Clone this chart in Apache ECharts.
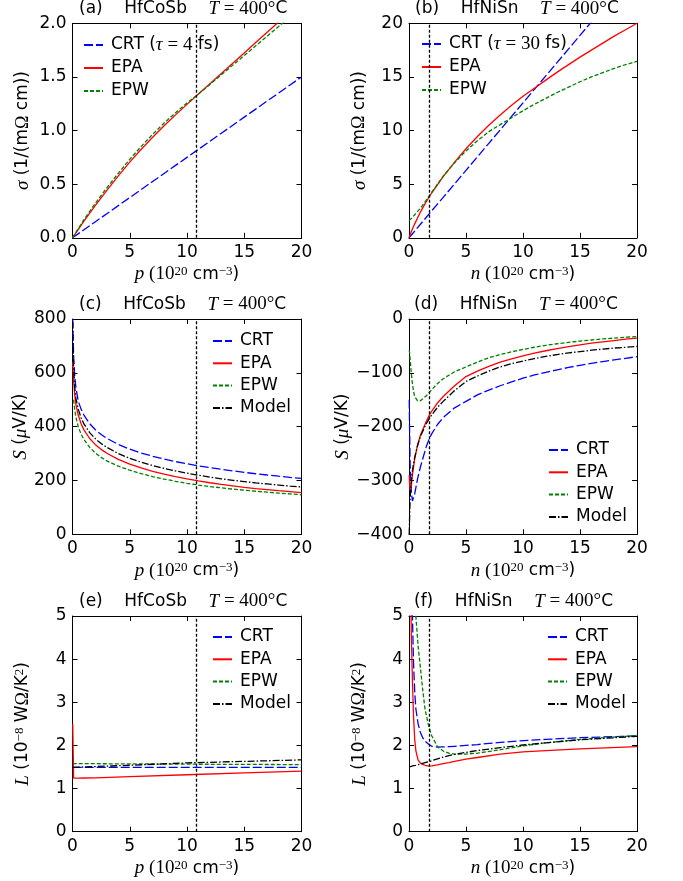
<!DOCTYPE html>
<html><head><meta charset="utf-8">
<script src="https://cdn.jsdelivr.net/npm/echarts@6/dist/echarts.min.js"></script>
<style>html,body{margin:0;padding:0;background:#fff}#c{width:683px;height:881px}</style>
</head><body><div id="c"></div><script>
// ---------- DATA ----------
// (a) HfCoSb conductivity
const aX   = [0, 1, 2, 3, 4, 5, 6, 7, 8, 9, 10, 11, 12, 13, 14, 15, 16, 17, 18, 19, 20];
const aCRT = [0, 0.075, 0.15, 0.225, 0.30, 0.375, 0.45, 0.525, 0.60, 0.675, 0.75, 0.825, 0.90, 0.975, 1.05, 1.125, 1.20, 1.275, 1.35, 1.425, 1.50];
const aEPA = [0, 0.155, 0.302, 0.443, 0.578, 0.706, 0.826, 0.938, 1.044, 1.146, 1.244, 1.34, 1.436, 1.532, 1.628, 1.724, 1.82, 1.916, 2.012, 2.108, 2.204];
const aEPW = [0, 0.17, 0.322, 0.466, 0.602, 0.731, 0.852, 0.965, 1.07, 1.166, 1.257, 1.34, 1.43, 1.52, 1.61, 1.70, 1.79, 1.88, 1.97, 2.06, 2.15];
// (b) HfNiSn conductivity
const bX   = [0, 0.25, 0.5, 1, 1.5, 2, 3, 4, 5, 6, 7, 8, 9, 10, 11, 12, 13, 14, 15, 16, 17, 18, 19, 20];
const bCRT = [0, 0.31, 0.63, 1.26, 1.89, 2.52, 3.77, 5.03, 6.29, 7.55, 8.81, 10.06, 11.32, 12.58, 13.84, 15.1, 16.35, 17.61, 18.87, 20.13, 21.4, 22.6, 23.9, 25.2];
const bEPA = [0, 0.7, 1.3, 2.4, 3.35, 4.2, 5.7, 7.05, 8.3, 9.45, 10.5, 11.45, 12.35, 13.2, 13.95, 14.7, 15.45, 16.15, 16.85, 17.5, 18.15, 18.8, 19.4, 20.0];
const bEPW = [1.6, 1.85, 2.15, 2.75, 3.5, 4.25, 5.75, 7.0, 8.1, 9.05, 9.9, 10.55, 11.2, 11.85, 12.45, 13.0, 13.55, 14.05, 14.55, 15.0, 15.4, 15.8, 16.15, 16.45];
// (c) HfCoSb Seebeck
const cX     = [0.02, 0.05, 0.1, 0.2, 0.3, 0.5, 0.75, 1, 1.5, 2, 2.5, 3, 4, 5, 6, 7, 8, 9, 10, 11, 12, 13, 14, 15, 16, 17, 18, 19, 20];
const cCRT   = [800, 740, 660, 585, 545, 495, 465, 443, 411, 388.5, 371, 356.5, 334, 316.5, 302, 290, 279.5, 270, 262, 254.5, 247.7, 241.4, 235.6, 230.1, 225, 220.3, 215.8, 211.6, 207.5];
const cEPA   = [640, 610, 570, 515, 482, 443, 411, 388, 356, 333, 315.6, 301, 278.5, 261, 246.5, 234, 223.5, 214, 206, 198.5, 191.5, 185.5, 180, 174.5, 170, 166, 162, 158.5, 155];
const cEPW   = [null, null, 500, 462, 435, 400, 372, 352, 323, 302, 286, 273, 253, 238, 225.5, 214.5, 205, 197, 189.5, 183, 177.5, 172.5, 168, 164, 160, 156.5, 153, 150, 147];
const cModel = [790, 700, 615, 545, 505, 465, 433, 410, 378, 355, 337, 323, 300, 282, 268, 255.5, 245, 235.5, 227, 219.5, 212.5, 206, 200.5, 196, 191, 187, 183, 179, 176];
// (d) HfNiSn Seebeck
const dX     = [0.02, 0.05, 0.1, 0.2, 0.3, 0.4, 0.5, 0.75, 1, 1.5, 1.75, 2, 2.5, 3, 4, 5, 6, 7, 8, 9, 10, 11, 12, 13, 14, 15, 16, 17, 18, 19, 20];
const dCRT   = [-150, -200, -270, -320, -338, -335, -325, -297, -275, -238, -224, -213, -196, -183, -165, -153, -141, -132, -124, -117, -110, -104, -99, -94.5, -90, -86, -82.5, -79, -76, -73, -70];
const dEPA   = [-290, -305, -318, -310, -290, -275, -260, -235, -216, -191, -180, -171, -156, -144, -124, -107, -97, -88, -80, -74, -68.5, -63.5, -59, -55, -51.5, -48, -45, -42.5, -40, -37.5, -35.5];
const dEPW   = [-58, -62, -75, -100, -120, -135, -144, -152, -152, -143, -137, -131, -120, -111, -98, -89, -80, -72, -66, -61, -56.5, -52.5, -49, -46, -43.5, -41, -39, -37, -35.5, -34, -32.5];
const dModel = [-400, -370, -335, -300, -282, -268, -257, -235, -218, -195, -186, -178, -164, -153, -133, -116, -106, -97, -89, -83, -78, -73.5, -69.5, -66, -63, -60.5, -58, -56, -54, -52.5, -51];
// (e) HfCoSb Lorenz number
const eX     = [0.02, 0.1, 0.5, 1, 2, 5, 10, 15, 20];
const eCRT   = [1.49, 1.49, 1.49, 1.49, 1.49, 1.49, 1.49, 1.49, 1.49];
const eEPA   = [2.5, 1.24, 1.24, 1.245, 1.25, 1.275, 1.32, 1.365, 1.405];
const eEPW   = [1.58, 1.58, 1.58, 1.578, 1.576, 1.572, 1.565, 1.56, 1.555];
const eModel = [1.49, 1.49, 1.495, 1.5, 1.51, 1.54, 1.595, 1.63, 1.665];
// (f) HfNiSn Lorenz number
const fX     = [0.02, 0.1, 0.2, 0.3, 0.4, 0.5, 0.6, 0.8, 1, 1.2, 1.4, 1.75, 2, 2.5, 3, 3.5, 4, 5, 6, 8, 10, 12, 15, 20];
const fCRT   = [null, 9, 6.5, 5.0, 3.9, 3.25, 2.85, 2.5, 2.3, 2.18, 2.1, 2.02, 1.98, 1.96, 1.965, 1.97, 1.98, 2.0, 2.02, 2.07, 2.11, 2.14, 2.18, 2.22];
const fEPA   = [9, 7, 4.6, 3.5, 2.65, 2.15, 1.88, 1.66, 1.59, 1.56, 1.54, 1.52, 1.525, 1.55, 1.58, 1.6, 1.63, 1.68, 1.72, 1.8, 1.85, 1.88, 1.92, 1.97];
const fEPW   = [null, null, null, null, null, 5.7, 5.0, 4.3, 3.8, 3.3, 2.85, 2.42, 2.22, 1.97, 1.87, 1.82, 1.8, 1.8, 1.82, 1.9, 1.99, 2.06, 2.14, 2.23];
const fModel = [1.5, 1.51, 1.515, 1.52, 1.53, 1.535, 1.54, 1.555, 1.57, 1.585, 1.6, 1.625, 1.645, 1.69, 1.73, 1.765, 1.79, 1.84, 1.88, 1.95, 2.01, 2.06, 2.13, 2.21];
// vertical marker (carrier concentration of interest)
const vlineX = [10.8, 1.75, 10.8, 1.75, 10.8, 1.75];
// axis ranges / ticks
const yMin = [0, 0, 0, -400, 0, 0];
const yMax = [2, 20, 800, 0, 5, 5];
const yStep = [0.5, 5, 200, 100, 1, 1];
const xMin = 0, xMax = 20, xStep = 5;
const letters = ['a', 'b', 'c', 'd', 'e', 'f'];
const materials = ['HfCoSb', 'HfNiSn', 'HfCoSb', 'HfNiSn', 'HfCoSb', 'HfNiSn'];
const crtNames = ['CRT (τ = 4 fs)', 'CRT (τ = 30 fs)'];

// ---------- LAYOUT / STYLE ----------
const SANS = 'DejaVu Sans', SERIF = 'Liberation Serif';
const FS = 17;
const grids = [
  {left: 72.5, top: 23.3, width: 229, height: 214.5},
  {left: 409, top: 23.3, width: 228, height: 214.5},
  {left: 72.5, top: 319, width: 229, height: 215.3},
  {left: 409, top: 319, width: 228, height: 215.3},
  {left: 72.5, top: 616, width: 229, height: 215.7},
  {left: 409, top: 616, width: 228, height: 215.7}
];
const styles = {
  CRT:   {color: '#0000ff', type: [9, 3]},
  EPA:   {color: '#ff0000', type: 'solid'},
  EPW:   {color: '#008000', type: [4, 2]},
  Model: {color: '#000000', type: [7, 2, 1.5, 2]}
};
const rich = {
  i:  {fontFamily: SERIF, fontStyle: 'italic', fontSize: 19, color: '#000'},
  m:  {fontFamily: SERIF, fontSize: 19, color: '#000'},
  o:  {fontFamily: SERIF, fontSize: 18, color: '#000'},
  n:  {fontFamily: SANS, fontSize: FS, color: '#000'},
  sup:{fontFamily: SANS, fontSize: 12, color: '#000', verticalAlign: 'top', lineHeight: 12},
  ms: {fontFamily: SERIF, fontSize: 13, color: '#000', verticalAlign: 'top', lineHeight: 12}
};
const xNames = ['{i|p}{m| (10}{ms|20}{n| cm}{ms|−3}{n|)}', '{i|n}{m| (10}{ms|20}{n| cm}{ms|−3}{n|)}'];
const yNames = [
  '{i|σ}{n| (1/(m}{o|Ω}{n| cm))}', '{i|σ}{n| (1/(m}{o|Ω}{n| cm))}',
  '{i|S}{n| (}{i|μ}{n|V/K)}', '{i|S}{n| (}{i|μ}{n|V/K)}',
  '{i|L}{n| (10}{ms|−8}{n| W}{o|Ω}{n|/K}{ms|2}{n|)}', '{i|L}{n| (10}{ms|−8}{n| W}{o|Ω}{n|/K}{ms|2}{n|)}'
];
const legendPos = [
  {left: 83, top: 35, gap: 3}, {left: 421, top: 34, gap: 3},
  {left: 212, top: 331, gap: 2.3}, {left: 548, top: 440, gap: 2.3},
  {left: 212, top: 627, gap: 2.3}, {left: 547, top: 627, gap: 2.3}
];
const titleLeft = [79, 415, 79, 414, 79, 414];

const panels = [
  {x: aX, s: [['CRT', crtNames[0], aCRT], ['EPA', 'EPA', aEPA], ['EPW', 'EPW', aEPW]]},
  {x: bX, s: [['CRT', crtNames[1], bCRT], ['EPA', 'EPA', bEPA], ['EPW', 'EPW', bEPW]]},
  {x: cX, s: [['CRT', 'CRT', cCRT], ['EPA', 'EPA', cEPA], ['EPW', 'EPW', cEPW], ['Model', 'Model', cModel]]},
  {x: dX, s: [['CRT', 'CRT', dCRT], ['EPA', 'EPA', dEPA], ['EPW', 'EPW', dEPW], ['Model', 'Model', dModel]]},
  {x: eX, s: [['CRT', 'CRT', eCRT], ['EPA', 'EPA', eEPA], ['EPW', 'EPW', eEPW], ['Model', 'Model', eModel]]},
  {x: fX, s: [['CRT', 'CRT', fCRT], ['EPA', 'EPA', fEPA], ['EPW', 'EPW', fEPW], ['Model', 'Model', fModel]]}
];

const axisLine = {show: true, onZero: false, lineStyle: {color: '#000', width: 1}};
const axisTick = {show: true, inside: true, length: 5, lineStyle: {color: '#000', width: 1}};
const labelBase = {color: '#000', fontFamily: SANS, fontSize: FS};

const option = {
  animation: false,
  backgroundColor: '#fff',
  grid: grids.map(g => Object.assign({outerBoundsMode: 'none', containLabel: false}, g)),
  xAxis: [], yAxis: [], series: [], legend: [], title: []
};

panels.forEach((p, k) => {
  const fmtY = v => {
    let s = (yStep[k] < 1) ? v.toFixed(1) : String(v);
    return s.replace('-', '−');
  };
  option.xAxis.push({
    type: 'value', gridIndex: k, position: 'bottom', min: xMin, max: xMax, interval: xStep,
    axisLine, axisTick, splitLine: {show: false},
    axisLabel: Object.assign({margin: 6}, labelBase),
    name: xNames[k % 2], nameLocation: 'middle', nameGap: 27,
    nameTextStyle: {fontFamily: SANS, fontSize: FS, color: '#000', rich}
  });
  option.xAxis.push({
    type: 'value', gridIndex: k, position: 'top', min: xMin, max: xMax, interval: xStep,
    axisLine, axisTick, splitLine: {show: false}, axisLabel: {show: false}
  });
  option.yAxis.push({
    type: 'value', gridIndex: k, position: 'left', min: yMin[k], max: yMax[k], interval: yStep[k],
    axisLine, axisTick, splitLine: {show: false},
    axisLabel: Object.assign({margin: 6, formatter: fmtY}, labelBase),
    name: yNames[k], nameLocation: 'middle', nameGap: 40,
    nameTextStyle: {fontFamily: SANS, fontSize: FS, color: '#000', rich}
  });
  option.yAxis.push({
    type: 'value', gridIndex: k, position: 'right', min: yMin[k], max: yMax[k], interval: yStep[k],
    axisLine, axisTick, splitLine: {show: false}, axisLabel: {show: false}
  });
  p.s.forEach((s, j) => {
    const st = styles[s[0]];
    const ser = {
      type: 'line', name: s[1], xAxisIndex: 2 * k, yAxisIndex: 2 * k,
      data: p.x.map((x, i) => [x, s[2][i]]),
      symbol: 'none', showSymbol: false, smooth: false, clip: true, connectNulls: false,
      color: st.color,
      lineStyle: {color: st.color, width: 1.3, type: st.type},
      itemStyle: {color: st.color},
      z: 2 + j
    };
    if (j === 0) {
      ser.markLine = {
        silent: true, symbol: ['none', 'none'], label: {show: false},
        lineStyle: {color: '#000', type: [3, 2], width: 1.3},
        data: [{xAxis: vlineX[k]}]
      };
    }
    option.series.push(ser);
  });
  option.legend.push({
    data: p.s.map(s => s[1]), orient: 'vertical',
    left: legendPos[k].left, top: legendPos[k].top, padding: 0,
    itemWidth: 19, itemHeight: 10, itemGap: legendPos[k].gap,
    selectedMode: false,
    itemStyle: {opacity: 0, color: 'rgba(0,0,0,0)', borderWidth: 0},
    textStyle: {fontFamily: SANS, fontSize: FS, color: '#000', lineHeight: 20, padding: [0, 0, 0, 3],
      rich: {t: {fontFamily: SERIF, fontStyle: 'italic', fontSize: 19, color: '#000'},
             u: {fontFamily: SERIF, fontSize: 19, color: '#000'}}},
    formatter: name => name.replace(/τ = (\d+)/, '{t|τ}{u| = $1}')
  });
  option.title.push({
    left: titleLeft[k], top: grids[k].top - 24, padding: 0,
    text: '{n|(' + letters[k] + ')    ' + materials[k] + '    }{i|T}{m| = 400°}{n|C}',
    textStyle: {fontFamily: SANS, fontSize: FS, color: '#000', fontWeight: 'normal', rich}
  });
});

const chart = echarts.init(document.getElementById('c'), null, {renderer: 'canvas'});
chart.setOption(option);
</script></body></html>
